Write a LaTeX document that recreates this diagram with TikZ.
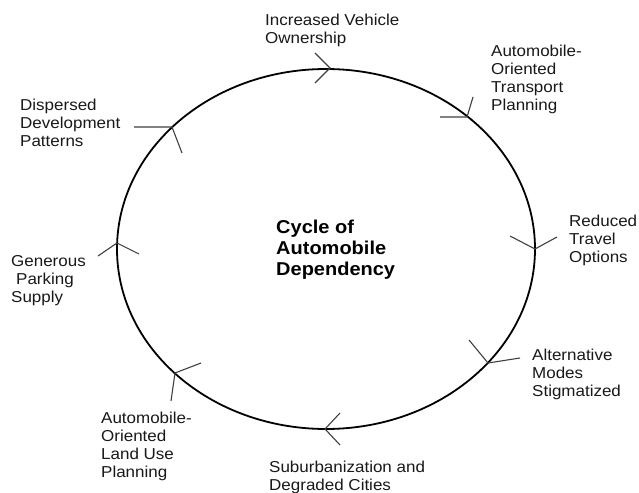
\documentclass[tikz,border=0pt]{standalone}
\usepackage{fontspec}
\setmainfont{Liberation Sans}[FakeStretch=1.075]
\begin{document}
\begin{tikzpicture}[x=1pt,y=-1pt,
  lbl/.style={anchor=north west,inner sep=0pt,align=left,
    font={\fontsize{15.8}{18}\selectfont},text=black!90},
  ttl/.style={anchor=north west,inner sep=0pt,align=left,
    font={\fontsize{18.6}{21}\selectfont\bfseries}},
  cyc/.style={line width=1.8pt,black},
  tick/.style={line width=1.1pt,black!75}]
\useasboundingbox (0,0) rectangle (639,492);
\fill[white] (0,0) rectangle (639,492);
% cycle
\draw[cyc] (326,249) ellipse [x radius=209,y radius=180];
% arrow marks on the cycle
\coordinate (p1) at (330,68);
\coordinate (p2) at (467,117);
\coordinate (p3) at (535,249);
\coordinate (p4) at (488,363);
\coordinate (p5) at (325,429);
\coordinate (p6) at (175,373);
\coordinate (p7) at (117,243);
\coordinate (p8) at (172,127);
\draw[tick] (315,53) -- (p1) -- (315,83);
\draw[tick] (440,117) -- (p2) -- (473,97);
\draw[tick] (510,236) -- (p3) -- (557,237);
\draw[tick] (469,340) -- (p4) -- (520,358);
\draw[tick] (340,413) -- (p5) -- (340,445);
\draw[tick] (201,363) -- (p6) -- (171,401);
\draw[tick] (98,256) -- (p7) -- (139,254);
\draw[tick] (134,127) -- (p8) -- (182,153);
% labels
\node[lbl] (inc) at (265,14.3) {Increased Vehicle\\Ownership};
\node[lbl] (aot) at (491,45) {Automobile-\\Oriented\\Transport\\Planning};
\node[lbl] (red) at (569,215) {Reduced\\Travel\\Options};
\node[lbl] (alt) at (532,349) {Alternative\\Modes\\Stigmatized};
\node[lbl] (sub) at (269,460.5) {Suburbanization and\\Degraded Cities};
\node[lbl] (aol) at (101,411.5) {Automobile-\\Oriented\\Land Use\\Planning};
\node[lbl] (gen) at (11,255) {Generous\\\hspace{5pt}Parking\\Supply};
\node[lbl] (dis) at (20,99) {Dispersed\\Development\\Patterns};
\node[ttl] (title) at (276,220) {Cycle of\\Automobile\\Dependency};
\end{tikzpicture}
\end{document}
